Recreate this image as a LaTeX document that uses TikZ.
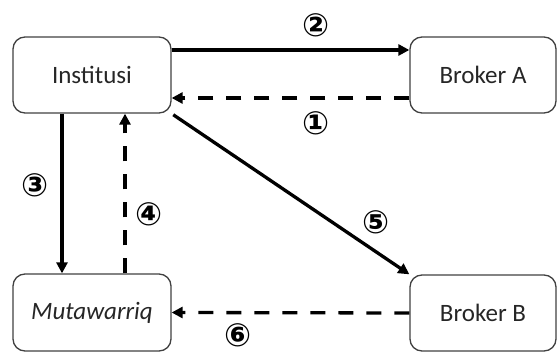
\documentclass[tikz,border=0pt]{standalone}
\usepackage{fontspec}
\setmainfont{Carlito}
\newfontfamily\circfont{DejaVu Sans Bold}
\usetikzlibrary{arrows.meta}
\begin{document}
\begin{tikzpicture}[x=1pt,y=-1pt,
  party/.style={draw=black!75,line width=1.3pt,rounded corners=12pt,
    minimum width=158pt,minimum height=76pt,inner sep=0pt,
    font=\fontsize{25}{30}\selectfont,text=black!85},
  flow/.style={line width=3.3pt,-{Triangle[length=11pt,width=11pt]}},
  back/.style={flow,dash pattern=on 15pt off 13pt},
  stepno/.style={font=\circfont\fontsize{32}{34}\selectfont,inner sep=0pt,text=black}]
\useasboundingbox (0,0) rectangle (558,352);
% parties
\node[party] (inst) at (92,75) {Institusi};
\node[party,minimum width=146pt] (brA) at (483,75) {Broker A};
\node[party,minimum height=77pt] (mut) at (92,312.5) {\itshape Mutawarriq};
\node[party,minimum width=146pt] (brB) at (483,313) {Broker B};
% flows
\draw[back] ([yshift=-23pt]brA.west) -- ([yshift=-23pt]inst.east);
\draw[flow] ([yshift=25pt]inst.east) -- ([yshift=25pt]brA.west);
\draw[flow] ([xshift=-30pt]inst.south) -- ([xshift=-30pt]mut.north);
\draw[back] ([xshift=33pt]mut.north) -- ([xshift=33pt]inst.south);
\draw[flow,shorten <=2pt] (inst.south east) -- (brB.north west);
\draw[back] (brB.west) -- (mut.east);
% step numbers
\node[stepno] (n1) at (316,123) {①};
\node[stepno] (n2) at (316,25) {②};
\node[stepno] (n3) at (35,185) {③};
\node[stepno] (n4) at (149,214) {④};
\node[stepno] (n5) at (376,222) {⑤};
\node[stepno] (n6) at (238,335) {⑥};
\end{tikzpicture}
\end{document}
